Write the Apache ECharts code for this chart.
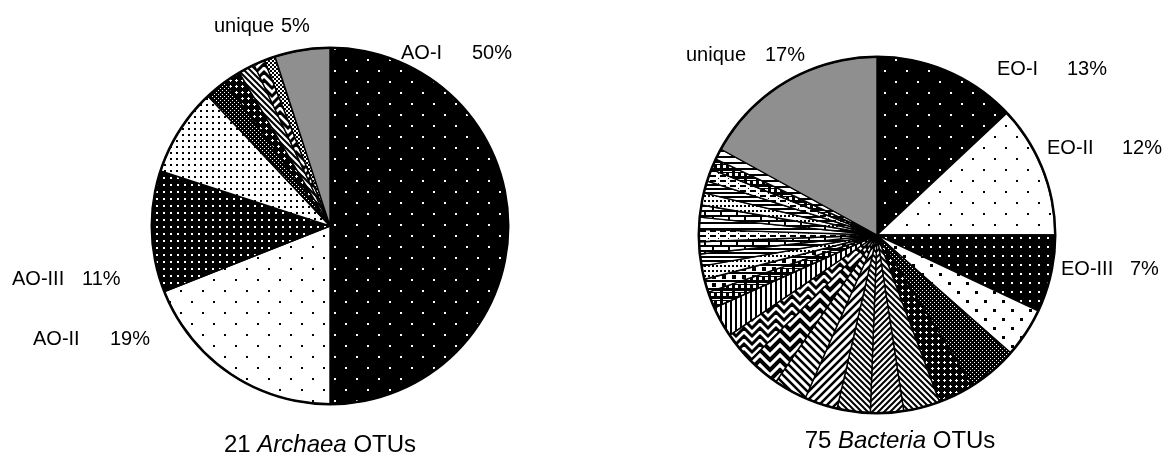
<!DOCTYPE html>
<html>
<head>
<meta charset="utf-8">
<script src="https://cdn.jsdelivr.net/npm/echarts@6/dist/echarts.min.js"></script>
<style>
  html, body { margin: 0; padding: 0; background: #fff; }
  #chart { width: 1169px; height: 454px; }
</style>
</head>
<body>
<div id="chart"></div>
<script>
// ---- Data: share of clones per OTU (percent), slices in clockwise order from 12 o'clock ----
const archaeaNames  = ['AO-I', 'AO-II', 'AO-III', 'a4', 'a5', 'a6', 'a7', 'a8', 'a9', 'unique'];
const archaeaValues = [50, 19, 11, 8, 2, 1.5, 1.5, 1, 1, 5];
const archaeaLabelled = ['AO-I', 'AO-II', 'AO-III', 'unique'];

const bacteriaNames  = ['EO-I', 'EO-II', 'EO-III',
  'b4', 'b5', 'b6', 'b7', 'b8', 'b9', 'b10', 'b11', 'b12', 'b13', 'b14',
  'b15', 'b16', 'b17', 'b18', 'b19', 'b20', 'b21', 'b22', 'b23', 'b24', 'b25', 'b26', 'b27',
  'unique'];
const bacteriaValues = [13, 12, 7,
  4.5, 4.5, 3.3, 3.3, 3, 3, 3, 3, 3, 2.9, 2.8,
  1.5, 1.2, 1.2, 1.1, 1.1, 1.1, 1.1, 1.1, 1.1, 1.1, 1.1, 1, 1,
  17];
const bacteriaLabelled = ['EO-I', 'EO-II', 'EO-III', 'unique'];

const captions = [
  { count: 21, taxon: 'Archaea' },
  { count: 75, taxon: 'Bacteria' }
];

// ---- Fill patterns (monochrome print style) ----
function tile(w, h, bg, draw) {
  const c = document.createElement('canvas');
  c.width = w; c.height = h;
  const g = c.getContext('2d');
  g.fillStyle = bg; g.fillRect(0, 0, w, h);
  g.fillStyle = '#000'; g.strokeStyle = '#000';
  draw(g, w, h);
  return { image: c, repeat: 'repeat' };
}
const P = {
  darkDotsSparse: tile(22, 22, '#000', g => { g.fillStyle = '#fff'; g.fillRect(4, 4, 2, 2); g.fillRect(15, 15, 2, 2); }),
  lightDotsSparse: tile(22, 22, '#fff', g => { g.fillRect(4, 4, 2, 2); g.fillRect(15, 15, 2, 2); }),
  darkDots7: tile(7, 7, '#000', g => { g.fillStyle = '#fff'; g.fillRect(2, 2, 2, 2); }),
  lightDots6: tile(6, 6, '#fff', g => { g.fillRect(2, 2, 2, 2); }),
  darkDots9: tile(18, 18, '#000', g => { g.fillStyle = '#fff'; g.fillRect(3, 3, 2, 2); g.fillRect(12, 12, 2, 2); g.fillRect(12, 3, 2, 2); g.fillRect(3, 12, 2, 2); }),
  lightDots9: tile(18, 18, '#fff', g => { g.fillRect(3, 3, 3, 3); g.fillRect(12, 12, 3, 3); }),
  crossDark: tile(4, 4, '#000', g => { g.fillStyle = '#fff'; g.fillRect(0, 0, 1, 1); g.fillRect(2, 2, 1, 1); }),
  stars: tile(6, 6, '#000', g => { g.fillStyle = '#fff'; g.fillRect(2, 1, 1, 3); g.fillRect(1, 2, 3, 1); }),
  checker: tile(4, 4, '#fff', g => { g.fillRect(0, 0, 2, 2); g.fillRect(2, 2, 2, 2); }),
  diagUp: tile(6, 6, '#fff', g => { g.lineWidth = 2; g.beginPath(); g.moveTo(-1, 7); g.lineTo(7, -1); g.moveTo(-4, 4); g.lineTo(4, -4); g.moveTo(2, 10); g.lineTo(10, 2); g.stroke(); }),
  diagDown: tile(6, 6, '#fff', g => { g.lineWidth = 2; g.beginPath(); g.moveTo(-1, -1); g.lineTo(7, 7); g.moveTo(-4, 2); g.lineTo(4, 10); g.moveTo(2, -4); g.lineTo(10, 4); g.stroke(); }),
  diagUpWide: tile(8, 8, '#fff', g => { g.lineWidth = 2.5; g.beginPath(); g.moveTo(-1, 9); g.lineTo(9, -1); g.moveTo(-5, 5); g.lineTo(5, -5); g.moveTo(3, 13); g.lineTo(13, 3); g.stroke(); }),
  diagDownWide: tile(8, 8, '#fff', g => { g.lineWidth = 2.5; g.beginPath(); g.moveTo(-1, -1); g.lineTo(9, 9); g.moveTo(-5, 3); g.lineTo(5, 13); g.moveTo(3, -5); g.lineTo(13, 5); g.stroke(); }),
  zigzag: tile(16, 8, '#fff', g => { g.lineWidth = 3; g.beginPath(); for (let y = -16; y <= 16; y += 8) { g.moveTo(-1, y + 9); g.lineTo(8, y); g.lineTo(17, y + 9); } g.stroke(); }),
  chevron: tile(20, 10, '#fff', g => { g.lineWidth = 4; g.beginPath(); for (let y = -20; y <= 20; y += 10) { g.moveTo(-1, y - 1); g.lineTo(10, y + 10); g.lineTo(21, y - 1); } g.stroke(); }),
  vStripes: tile(5, 1, '#fff', g => { g.fillRect(0, 0, 2, 1); }),
  hStripes: tile(1, 4, '#fff', g => { g.fillRect(0, 0, 1, 2); }),
  hStripes6: tile(1, 6, '#fff', g => { g.fillRect(0, 0, 1, 2); }),
  bricks: tile(16, 10, '#fff', g => { g.fillRect(0, 0, 16, 2); g.fillRect(0, 5, 16, 2); g.fillRect(0, 0, 2, 5); g.fillRect(8, 5, 2, 5); }),
  bricksDark: tile(12, 8, '#fff', g => { g.fillRect(0, 0, 12, 3); g.fillRect(0, 4, 12, 1); g.fillRect(0, 0, 3, 8); g.fillRect(6, 4, 3, 4); }),
  dashRows: tile(10, 5, '#fff', g => { g.fillRect(0, 0, 6, 2); g.fillRect(8, 3, 1, 1); }),
  dotRows: tile(4, 5, '#fff', g => { g.fillRect(0, 0, 2, 2); }),
  blocks: tile(10, 8, '#fff', g => { g.fillRect(0, 0, 10, 2); g.fillRect(2, 3, 4, 4); }),
  gray: '#8f8f8f'
};

const archaeaFills = [P.darkDotsSparse, P.lightDotsSparse, P.darkDots7, P.lightDots6,
  P.crossDark, P.stars, P.diagDown, P.zigzag, P.checker, P.gray];

const bacteriaFills = [P.darkDotsSparse, P.lightDotsSparse, P.darkDots9,
  P.lightDots9, P.crossDark, P.stars, P.diagDown, P.diagUp, P.diagDown, P.diagUpWide, P.diagDownWide,
  P.chevron, P.zigzag, P.vStripes,
  P.bricksDark, P.blocks, P.dotRows, P.hStripes, P.bricks, P.dashRows, P.hStripes6, P.bricks,
  P.dotRows, P.hStripes, P.dashRows, P.bricksDark, P.hStripes6,
  P.gray];

// ---- Label placement (left edge, vertical centre) and room given to the name before the percent ----
const labelSpots = {
  archaea: {
    'unique': { x: 214, y: 26, w: 67 },
    'AO-I':   { x: 401, y: 53, w: 71 },
    'AO-III': { x: 12,  y: 279, w: 70 },
    'AO-II':  { x: 33,  y: 339, w: 77 }
  },
  bacteria: {
    'unique': { x: 686, y: 55, w: 79 },
    'EO-I':   { x: 997, y: 69, w: 70 },
    'EO-II':  { x: 1047, y: 148, w: 75 },
    'EO-III': { x: 1061, y: 269, w: 69 }
  }
};

const FONT = '"Liberation Sans", Arial, sans-serif';
const LABEL_SIZE = 20;

function buildData(names, values, fills, labelled, spots) {
  return names.map((n, i) => {
    const item = { name: n, value: values[i], itemStyle: { color: fills[i] } };
    if (labelled.includes(n)) {
      item.label = {
        show: true,
        formatter: '{n|' + n + '}{p|' + values[i] + '%}',
        rich: {
          n: { width: spots[n].w, fontSize: LABEL_SIZE, fontFamily: FONT, color: '#000' },
          p: { fontSize: LABEL_SIZE, fontFamily: FONT, color: '#000' }
        }
      };
    }
    return item;
  });
}

function pieSeries(key, center, names, values, fills, labelled) {
  const spots = labelSpots[key];
  return {
    type: 'pie',
    center: center,
    radius: 178,
    startAngle: 90,
    clockwise: true,
    animation: false,
    silent: true,
    avoidLabelOverlap: false,
    itemStyle: { borderColor: '#000', borderWidth: 1.4 },
    label: { show: false, position: 'outside' },
    labelLine: { show: false },
    labelLayout: function (params) {
      const s = spots[names[params.dataIndex]];
      if (!s) return {};
      return { x: s.x, y: s.y, align: 'left', verticalAlign: 'middle', hideOverlap: false };
    },
    data: buildData(names, values, fills, labelled, spots)
  };
}

// heavier outer rim drawn as a thin ring round each pie
function rim(center) {
  return {
    type: 'pie', center: center, radius: [177, 179.5], silent: true, animation: false,
    label: { show: false }, labelLine: { show: false },
    itemStyle: { color: '#000', borderWidth: 0 },
    data: [{ value: 1, name: 'rim' }]
  };
}

const chart = echarts.init(document.getElementById('chart'), null, { renderer: 'canvas' });
chart.setOption({
  backgroundColor: '#fff',
  title: captions.map((c, i) => ({
    text: c.count + ' {i|' + c.taxon + '} OTUs',
    left: i === 0 ? 320 : 900,
    top: i === 0 ? 432 : 428,
    textAlign: 'center',
    padding: 0,
    textStyle: {
      fontSize: 24, fontWeight: 'normal', fontFamily: FONT, color: '#000', lineHeight: 26,
      rich: { i: { fontSize: 24, fontStyle: 'italic', fontFamily: FONT, color: '#000', lineHeight: 26 } }
    }
  })),
  series: [
    pieSeries('archaea', [330, 226], archaeaNames, archaeaValues, archaeaFills, archaeaLabelled),
    pieSeries('bacteria', [877, 235], bacteriaNames, bacteriaValues, bacteriaFills, bacteriaLabelled),
    rim([330, 226]),
    rim([877, 235])
  ]
});
</script>
</body>
</html>
